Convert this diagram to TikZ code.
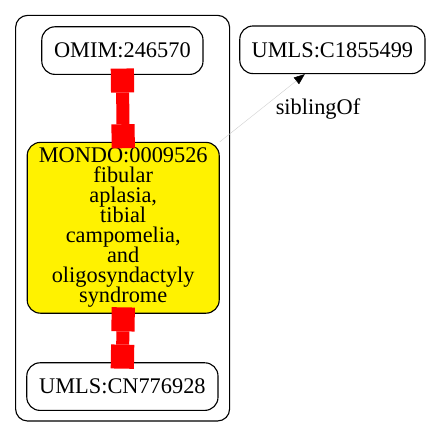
\documentclass[tikz,border=0pt]{standalone}
\usepackage{fontspec}
\setmainfont{Liberation Serif}
\usetikzlibrary{arrows.meta}
\lineskiplimit=-10pt

\begin{document}
\begin{tikzpicture}[
    x=1cm,y=1cm,
    >=Latex,
    box/.style={
        draw=black,
        line width=0.8pt,
        fill=white,
        rounded corners=0.33cm,
        align=center,
        inner sep=2pt,
        font=\fontsize{15.9pt}{14.2pt}\selectfont
    },
    termbox/.style={box, minimum height=1.19cm},
    hitbox/.style={
        box,
        fill=yellow,
        minimum width=4.80cm,
        minimum height=4.27cm
    },
    xrefflow/.style={
        {Square[length=0.6cm,width=0.58cm,line width=0pt]}-{Square[length=0.6cm,width=0.58cm,line width=0pt]},
        draw=red,
        line width=0.325cm,
        shorten <=-0.16cm,
        shorten >=-0.16cm
    },
    relflow/.style={
        -{Triangle[length=0.27cm,width=0.21cm,black]},
        draw=black!18,
        line width=0.3pt
    },
    lbl/.style={font=\fontsize{15.9pt}{14.2pt}\selectfont}
]
\useasboundingbox (0,0) rectangle (10.80,10.925);

% -----------------------------------------------------------------------------
% Cluster around the equivalent terms
% -----------------------------------------------------------------------------
\draw[line width=0.8pt, rounded corners=0.30cm]
    (0.39,0.40) rectangle (5.74,10.54);

\node[termbox, minimum width=4.03cm] (omim) at (3.06,9.66) {OMIM:246570};
\node[hitbox] (mondo) at (3.08,5.23)
    {MONDO:0009526\\fibular\\aplasia,\\tibial\\campomelia,\\and\\oligosyndactyly\\syndrome};
\node[termbox, minimum width=4.78cm] (cn776928) at (3.06,1.26) {UMLS:CN776928};

\draw[xrefflow] (omim.south) -- (mondo.north);
\draw[xrefflow] (mondo.south) -- (cn776928.north);

% -----------------------------------------------------------------------------
% Sibling term outside the cluster
% -----------------------------------------------------------------------------
\node[termbox, minimum width=4.63cm] (c1855499) at (8.31,9.68) {UMLS:C1855499};

\draw[relflow] (mondo.north east) -- ([xshift=-0.69cm]c1855499.south);
\node[lbl] (sibof) at (7.95,8.20) {siblingOf};

\end{tikzpicture}
\end{document}
